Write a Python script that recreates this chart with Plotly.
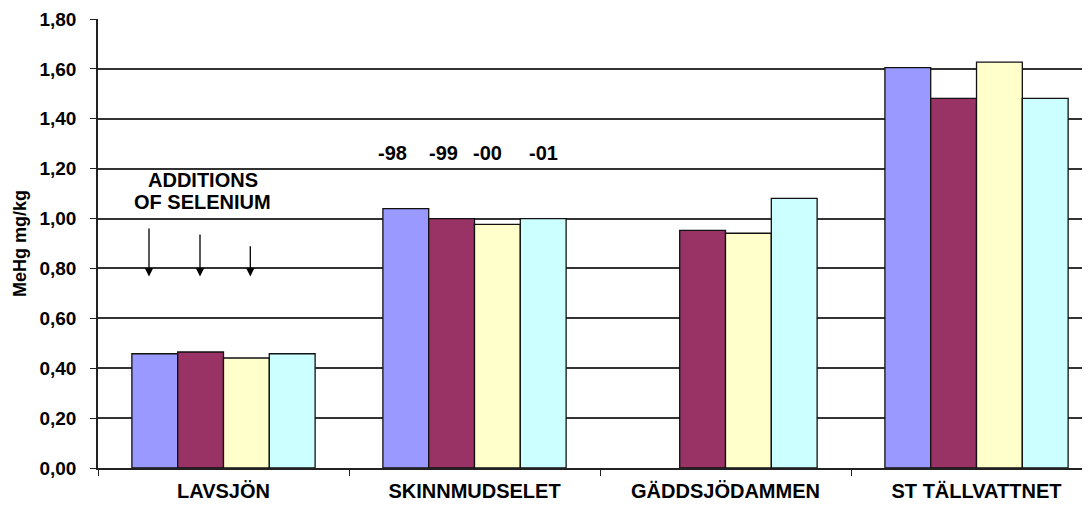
import plotly.graph_objects as go

categories = ["LAVSJÖN", "SKINNMUDSELET", "GÄDDSJÖDAMMEN", "ST TÄLLVATTNET"]
series_names = ["-98", "-99", "-00", "-01"]
v98 = [0.458, 1.04, None, 1.605]
v99 = [0.465, 1.00, 0.953, 1.482]
v00 = [0.441, 0.977, 0.941, 1.627]
v01 = [0.458, 1.00, 1.081, 1.482]
colors = ["#9999FF", "#993366", "#FFFFCC", "#CCFFFF"]
y_ticks = [0, 0.2, 0.4, 0.6, 0.8, 1.0, 1.2, 1.4, 1.6, 1.8]
y_tick_labels = ["0,00", "0,20", "0,40", "0,60", "0,80", "1,00", "1,20", "1,40", "1,60", "1,80"]

FONT = "Liberation Sans, Arial, sans-serif"
BODY = 8  # default page margin of the html body

# target plot area in page pixels
PL, PR, PT, PB = 98, 1098, 19, 468

fig = go.Figure()
for name, vals, col in zip(series_names, [v98, v99, v00, v01], colors):
    fig.add_trace(go.Bar(
        x=categories, y=vals, name=name,
        marker=dict(color=col, line=dict(color="#111111", width=1.3)),
    ))

fig.update_layout(
    width=1090, height=506,
    margin=dict(l=PL - BODY, r=1090 - (PR - BODY), t=PT - BODY, b=506 - (PB - BODY)),
    paper_bgcolor="white", plot_bgcolor="white",
    barmode="group", bargap=0.27, bargroupgap=0,
    showlegend=False,
    font=dict(family=FONT, size=18, color="black"),
)

fig.update_xaxes(
    type="category",
    range=[-0.5, 3.484],
    showline=True, linecolor="#222222", linewidth=1.5,
    ticks="outside", tickson="boundaries", ticklen=6, tickcolor="#222222", tickwidth=1.3,
    tickfont=dict(family=FONT, size=20, color="black", weight="bold"),
    ticklabelstandoff=4,
    showgrid=False,
)
fig.update_yaxes(
    range=[0, 1.8],
    tickvals=y_ticks, ticktext=y_tick_labels,
    showline=True, linecolor="#222222", linewidth=1.5,
    ticks="outside", ticklen=6, tickcolor="#222222", tickwidth=1.3,
    ticklabelstandoff=10,
    showgrid=True, gridcolor="#333333", gridwidth=1.5,
    zeroline=False,
    tickfont=dict(family=FONT, size=19, color="black", weight="bold"),
    title=dict(text="MeHg mg/kg", font=dict(family=FONT, size=18, color="black", weight="bold"), standoff=8),
)

def px_to_paper(px):
    return (px - PL) / (PR - PL)

# series labels above SKINNMUDSELET
label_x = [392.7, 443.3, 487.7, 543.3]
for name, px in zip(series_names, label_x):
    fig.add_annotation(
        x=px_to_paper(px), xref="paper", y=1.263, yref="y",
        xanchor="center", yanchor="middle",
        text=f"<b>{name}</b>", showarrow=False,
        font=dict(family=FONT, size=20, color="black"),
    )

for line, yv in [("ADDITIONS", 1.153), ("OF SELENIUM", 1.065)]:
    fig.add_annotation(
        x=px_to_paper(202.7), xref="paper", y=yv, yref="y",
        xanchor="center", yanchor="middle",
        text=f"<b>{line}</b>", showarrow=False,
        font=dict(family=FONT, size=20, color="black"),
    )

arrow_x = [149, 200, 250.3]
arrow_len = [49.4, 43.4, 31.7]
for px, ln in zip(arrow_x, arrow_len):
    fig.add_annotation(
        x=px_to_paper(px), xref="paper", y=0.768, yref="y",
        ax=0, ay=-ln, text="", showarrow=True,
        arrowhead=2, arrowsize=1.3, arrowwidth=1.3, arrowcolor="black",
    )

fig.write_html("out.html")
